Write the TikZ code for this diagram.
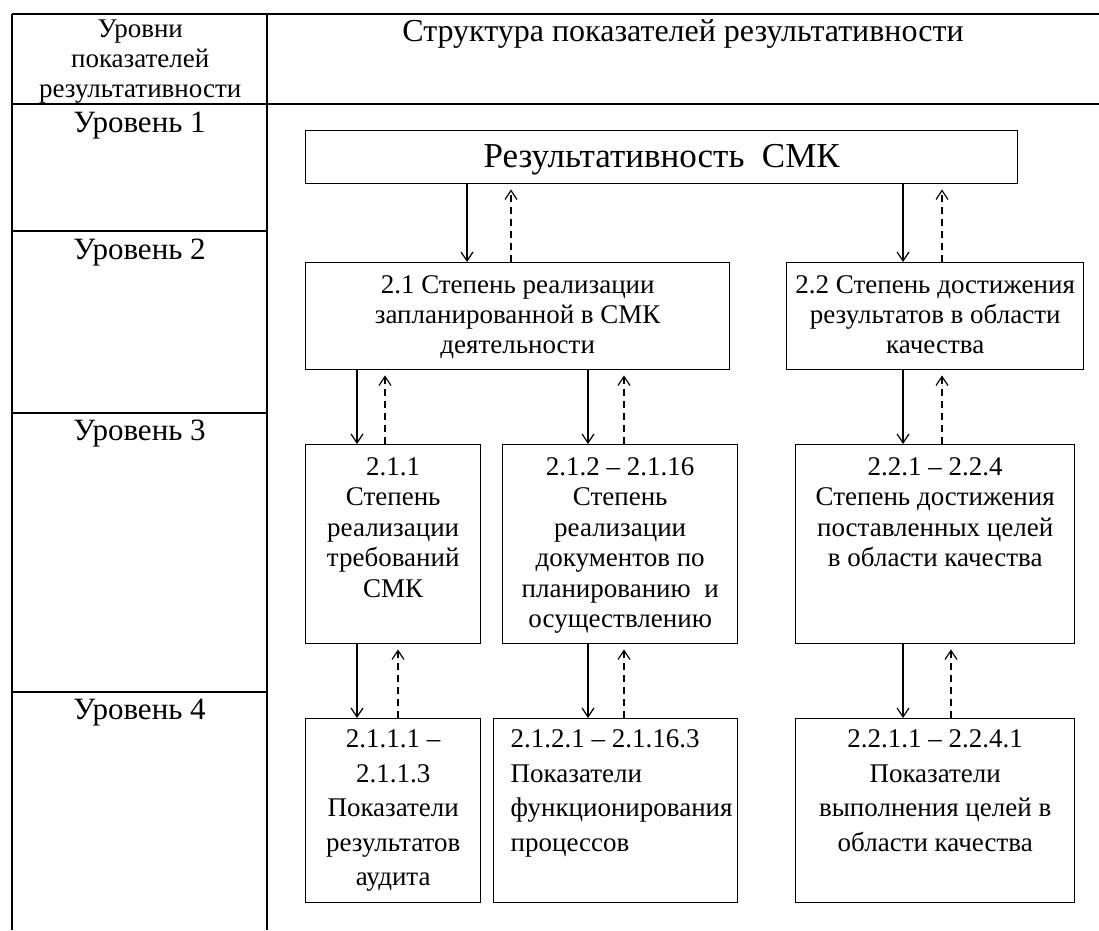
\documentclass[tikz,border=0pt]{standalone}
\usepackage{fontspec}
\setmainfont{Liberation Serif}
\usetikzlibrary{arrows.meta}
\newcommand{\tbx}[5]{\vbox to #2{\hsize=#1\relax\linewidth=\hsize\parindent=0pt #4\vskip#3\relax\strut#5\par\vfil}}
\begin{document}
\begin{tikzpicture}[x=1pt,y=-1pt,line width=1.4pt,
  bx/.style={draw,inner sep=0pt,anchor=north west},
  txt/.style={inner sep=0pt,anchor=north west},
  lvl/.style={inner sep=0pt,anchor=base,font=\fontsize{31}{36}\selectfont},
  sarr/.style={-{Straight Barb[length=9pt,width=12pt]},line width=1.2pt},
  darr/.style={-{Straight Barb[length=9pt,width=12pt]},line width=1.2pt,dash pattern=on 7pt off 5pt,shorten >=5pt}]
\useasboundingbox (0,0) rectangle (1099,930);
% table
\draw (12,14) -- (1099,14);
\draw (12,104) -- (1099,104);
\draw (12,14) -- (12,930);
\draw (267,14) -- (267,930);
\draw (12,231) -- (267,231);
\draw (12,413) -- (267,413);
\draw (12,692) -- (267,692);
% headers
\node[txt] (hleft) at (12,14) {\tbx{255pt}{90pt}{2pt}{\fontsize{27}{30}\selectfont\centering}{Уровни\\показателей\\результативности}};
\node[inner sep=0pt,anchor=base,font=\fontsize{32}{36}\selectfont] (title) at (683,41) {Структура показателей результативности};
\node[lvl] (l1) at (139.5,132) {Уровень 1};
\node[lvl] (l2) at (139.5,259) {Уровень 2};
\node[lvl] (l3) at (139.5,440) {Уровень 3};
\node[lvl] (l4) at (139.5,719) {Уровень 4};
% boxes
\node[bx] (top) at (305,130) {\tbx{712pt}{53pt}{9pt}{\fontsize{35}{40}\selectfont\centering}{Результативность\ \ СМК}};
\node[bx] (b21) at (305,262) {\tbx{424pt}{107pt}{10pt}{\fontsize{27}{30}\selectfont\centering}{2.1 Степень реализации\\запланированной в СМК\\деятельности}};
\node[bx] (b22) at (786,262) {\tbx{297pt}{107pt}{10pt}{\fontsize{27}{30}\selectfont\centering}{2.2 Степень достижения\\результатов в области\\качества}};
\node[bx] (b211) at (305,444) {\tbx{175pt}{199pt}{9pt}{\fontsize{27}{30.5}\selectfont\centering}{2.1.1\\Степень\\реализации\\требований\\СМК}};
\node[bx] (b212) at (502,444) {\tbx{235pt}{199pt}{9pt}{\fontsize{27}{30.5}\selectfont\centering}{2.1.2 -- 2.1.16\\Степень\\реализации\\документов по\\планированию\ \ и\\осуществлению}};
\node[bx] (b221) at (795,444) {\tbx{279pt}{199pt}{9pt}{\fontsize{27}{30.5}\selectfont\centering}{2.2.1 -- 2.2.4\\Степень достижения\\поставленных целей\\в области качества}};
\node[bx] (b2111) at (305,718) {\tbx{175pt}{184pt}{5pt}{\fontsize{27}{34.5}\selectfont\centering}{2.1.1.1 --\\2.1.1.3\\Показатели\\результатов\\аудита}};
\node[bx] (b2121) at (493,718) {\tbx{244pt}{184pt}{5pt}{\fontsize{27}{34.5}\selectfont\raggedright\leftskip=17pt}{2.1.2.1 -- 2.1.16.3\\Показатели\\функционирования\\процессов}};
\node[bx] (b2211) at (795,718) {\tbx{279pt}{184pt}{5pt}{\fontsize{27}{34.5}\selectfont\centering}{2.2.1.1 -- 2.2.4.1\\Показатели\\выполнения целей в\\области качества}};
% x positions of connectors
\coordinate (xa) at (467,0);
\coordinate (xb) at (511,0);
\coordinate (xc) at (903,0);
\coordinate (xd) at (942,0);
\coordinate (xe) at (357,0);
\coordinate (xf) at (385,0);
\coordinate (xg) at (588,0);
\coordinate (xh) at (624,0);
\coordinate (xi) at (398,0);
\coordinate (xj) at (951,0);
% level 1 -> 2
\draw[sarr] (top.south -| xa) -- (b21.north -| xa);
\draw[darr] (b21.north -| xb) -- (top.south -| xb);
\draw[sarr] (top.south -| xc) -- (b22.north -| xc);
\draw[darr] (b22.north -| xd) -- (top.south -| xd);
% level 2 -> 3
\draw[sarr] (b21.south -| xe) -- (b211.north -| xe);
\draw[darr] (b211.north -| xf) -- (b21.south -| xf);
\draw[sarr] (b21.south -| xg) -- (b212.north -| xg);
\draw[darr] (b212.north -| xh) -- (b21.south -| xh);
\draw[sarr] (b22.south -| xc) -- (b221.north -| xc);
\draw[darr] (b221.north -| xd) -- (b22.south -| xd);
% level 3 -> 4
\draw[sarr] (b211.south -| xe) -- (b2111.north -| xe);
\draw[darr] (b2111.north -| xi) -- (b211.south -| xi);
\draw[sarr] (b212.south -| xg) -- (b2121.north -| xg);
\draw[darr] (b2121.north -| xh) -- (b212.south -| xh);
\draw[sarr] (b221.south -| xc) -- (b2211.north -| xc);
\draw[darr] (b2211.north -| xj) -- (b221.south -| xj);
\end{tikzpicture}
\end{document}
